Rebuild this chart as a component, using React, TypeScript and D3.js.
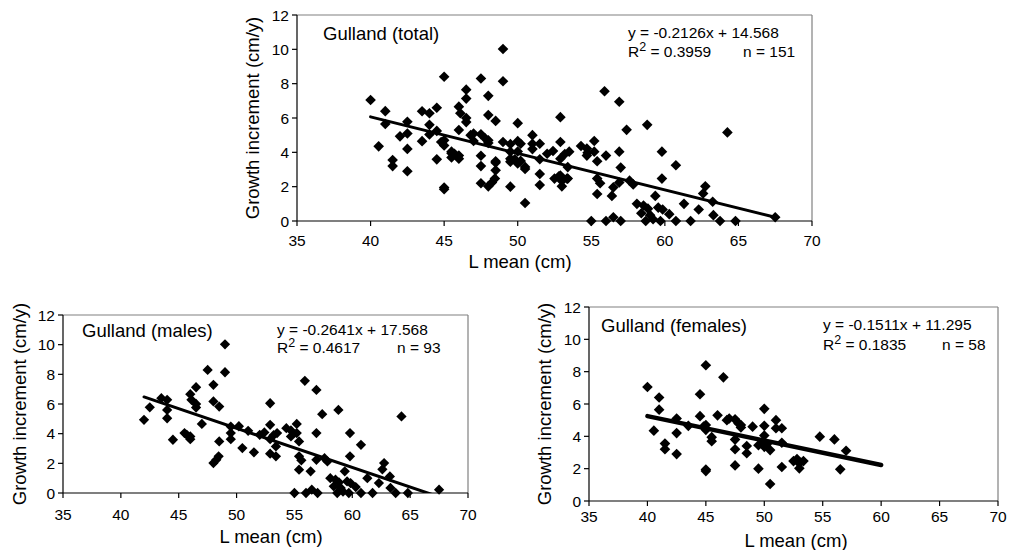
import React from "react";
import * as d3 from "d3";

const xTicks = [35, 40, 45, 50, 55, 60, 65, 70];
const yTicks = [0, 2, 4, 6, 8, 10, 12];

const males: [number, number][] = [
  [42.0, 4.93], [42.5, 5.78], [43.5, 6.39], [44.0, 6.28], [44.0, 5.6], [44.0, 5.04], [44.5, 3.59],
  [45.5, 4.04], [45.7, 3.92], [46.0, 3.63], [46.0, 3.81], [46.0, 6.66], [46.1, 6.28], [46.5, 7.13],
  [46.5, 6.0], [46.5, 5.76], [47.0, 4.66], [47.5, 8.3], [48.0, 7.29], [48.0, 6.17], [48.0, 2.02],
  [48.25, 2.24], [48.45, 2.47], [48.5, 5.83], [48.5, 3.48], [49.0, 10.02], [49.0, 8.14], [49.5, 4.48],
  [49.5, 4.04], [49.5, 3.63], [50.5, 3.03], [51.0, 4.19], [51.5, 2.74], [52.0, 3.92], [52.4, 4.08],
  [52.9, 6.05], [52.9, 4.6], [52.9, 3.63], [52.9, 2.65], [53.4, 3.14], [53.5, 4.04], [53.4, 2.47],
  [54.3, 4.37], [54.7, 4.22], [54.7, 3.81], [55.2, 4.66], [55.2, 4.04], [55.4, 3.48], [55.0, 0],
  [55.4, 2.47], [55.4, 1.57], [55.9, 7.56], [56.0, 0], [56.5, 0.22], [57.0, 0], [56.4, 1.46],
  [56.9, 6.95], [56.9, 4.04], [56.9, 2.24], [57.4, 5.31], [57.85, 2.13], [58.8, 5.6], [59.8, 4.04],
  [59.8, 2.47], [59.35, 1.46], [60.75, 3.25], [60.75, 0], [61.3, 1.0], [61.75, 0], [62.3, 0.67],
  [62.75, 2.02], [63.25, 1.12], [63.3, 0.34], [63.75, 0], [64.25, 5.16], [67.5, 0.22], [64.8, 0],
  [58.1, 1.0], [58.55, 0.9], [58.85, 0.72], [58.4, 0.45], [59.0, 0.34], [59.55, 0.78], [59.85, 0.67],
  [58.7, 0], [59.7, 0], [50.2, 4.5], [53.2, 3.9], [55.6, 2.2], [57.6, 2.35], [59.2, 0.1],
  [60.3, 0.4], [62.6, 1.6],
];

const females: [number, number][] = [
  [40.0, 7.05], [41.0, 6.4], [41.0, 5.65], [40.55, 4.35], [41.5, 3.55], [41.5, 3.2], [42.5, 5.1],
  [42.5, 4.2], [42.5, 2.9], [43.5, 4.65], [44.5, 6.6], [44.5, 5.25], [45.0, 8.4], [45.0, 4.7],
  [45.0, 4.4], [45.0, 1.95], [45.0, 1.85], [45.5, 3.95], [45.5, 3.7], [46.0, 5.3], [46.5, 7.65],
  [47.0, 5.1], [47.5, 5.05], [47.5, 3.8], [47.5, 3.2], [47.5, 2.2], [48.0, 4.55], [48.0, 4.7],
  [48.5, 3.4], [48.5, 2.95], [49.0, 4.6], [49.5, 3.45], [49.5, 2.0], [50.0, 5.7], [50.0, 4.65],
  [50.0, 4.05], [50.0, 3.35], [50.5, 3.15], [50.5, 1.05], [51.0, 5.0], [51.0, 4.5], [51.5, 4.5],
  [51.5, 3.6], [51.5, 2.1], [52.5, 2.47], [53.0, 2.33], [53.35, 2.47], [53.0, 2.02], [54.75, 3.98],
  [56.0, 3.81], [57.0, 3.11], [56.5, 1.96], [49.8, 3.6], [50.2, 3.5], [47.8, 4.8], [46.8, 5.0],
  [44.8, 4.6], [52.8, 2.6],
];

const total: [number, number][] = [...males, ...females];

const totalFit = [-0.2126, 14.568];
const malesFit = [-0.2641, 17.568];
const femalesFit = [-0.1511, 11.295];
const totalRange = [40, 67.5];
const malesRange = [42, 67.5];
const femalesRange = [40, 60];

const totalLabels = ["Gulland (total)", "y = -0.2126x + 14.568", " = 0.3959", "n = 151"];
const malesLabels = ["Gulland (males)", "y = -0.2641x + 17.568", " = 0.4617", "n = 93"];
const femalesLabels = ["Gulland (females)", "y = -0.1511x + 11.295", " = 0.1835", "n = 58"];

const FONT = "'Liberation Sans', Arial, sans-serif";

type PanelProps = {
  id: string;
  px0: number; px1: number; py0: number; py1: number;
  points: [number, number][];
  fit: number[]; range: number[]; lw: number;
  labels: string[];
  titleX: number; titleY: number;
  eqX: number; eqY1: number; eqY2: number; nX: number;
  tickBase: number; xTitleX: number; xTitleY: number; yTitleX: number;
  r: number;
};

function Panel(p: PanelProps) {
  const x = d3.scaleLinear().domain([35, 70]).range([p.px0, p.px1]);
  const y = d3.scaleLinear().domain([0, 12]).range([p.py0, p.py1]);
  const lineGen = d3.line<number>().x((v) => x(v)).y((v) => y(p.fit[0] * v + p.fit[1]));
  const sym = d3.symbol().type(d3.symbolDiamond2).size(p.r * p.r * 2);
  return (
    <g>
      <defs>
        <clipPath id={p.id}>
          <rect x={p.px0} y={p.py1} width={p.px1 - p.px0} height={p.py0 - p.py1} />
        </clipPath>
      </defs>
      <line x1={p.px0} x2={p.px1} y1={p.py1} y2={p.py1} stroke="#808080" strokeWidth={1.2} />
      <line x1={p.px1} x2={p.px1} y1={p.py1} y2={p.py0} stroke="#808080" strokeWidth={1.2} />
      <line x1={p.px0} x2={p.px1} y1={p.py0} y2={p.py0} stroke="#000" strokeWidth={1.2} />
      <line x1={p.px0} x2={p.px0} y1={p.py1} y2={p.py0} stroke="#000" strokeWidth={1.2} />
      {yTicks.map((t) => (
        <g key={"y" + t}>
          <line x1={p.px0 - 5} x2={p.px0} y1={y(t)} y2={y(t)} stroke="#000" strokeWidth={1.2} />
          <text x={p.px0 - 8} y={y(t)} dy="0.36em" textAnchor="end" fontSize={15.5} fontFamily={FONT}>{t}</text>
        </g>
      ))}
      {xTicks.map((t) => (
        <g key={"x" + t}>
          <line x1={x(t)} x2={x(t)} y1={p.py0} y2={p.py0 + 5} stroke="#000" strokeWidth={1.2} />
          <text x={x(t)} y={p.tickBase} textAnchor="middle" fontSize={15.5} fontFamily={FONT}>{t}</text>
        </g>
      ))}
      {p.points.map((d, i) => (
        <path key={i} d={sym() as string} transform={`translate(${x(d[0])},${y(d[1])})`} fill="#000" />
      ))}
      <path d={lineGen(p.range) as string} stroke="#000" strokeWidth={p.lw} fill="none" clipPath={`url(#${p.id})`} strokeLinecap="round" />
      <text x={p.titleX} y={p.titleY} fontSize={18.5} fontFamily={FONT}>{p.labels[0]}</text>
      <text x={p.eqX} y={p.eqY1} fontSize={15.5} fontFamily={FONT}>{p.labels[1]}</text>
      <text x={p.eqX} y={p.eqY2} fontSize={15.5} fontFamily={FONT}>
        R<tspan dy={-6} fontSize={12.5}>2</tspan><tspan dy={6}>{p.labels[2]}</tspan>
      </text>
      <text x={p.nX} y={p.eqY2} fontSize={15.5} fontFamily={FONT}>{p.labels[3]}</text>
      <text x={p.xTitleX} y={p.xTitleY} textAnchor="middle" fontSize={18.5} fontFamily={FONT}>L mean (cm)</text>
      <text transform={`translate(${p.yTitleX},${(p.py0 + p.py1) / 2}) rotate(-90)`} dy="0.35em" textAnchor="middle" fontSize={18.5} fontFamily={FONT}>
        Growth increment (cm/y)
      </text>
    </g>
  );
}

export default function App() {
  return (
    <svg width={1009} height={550} style={{ position: "absolute", left: 0, top: 0, background: "#fff" }}>
      <rect width={1009} height={550} fill="#fff" />
      <Panel id="c1" px0={297} px1={812} py0={221} py1={15} points={total} fit={totalFit} range={totalRange} lw={3}
        labels={totalLabels} titleX={323} titleY={40} eqX={628} eqY1={38} eqY2={57} nX={743}
        tickBase={246} xTitleX={520} xTitleY={268} yTitleX={253} r={6} />
      <Panel id="c2" px0={63} px1={468} py0={493} py1={315} points={males} fit={malesFit} range={malesRange} lw={3}
        labels={malesLabels} titleX={82} titleY={337} eqX={277} eqY1={335} eqY2={353} nX={397}
        tickBase={520} xTitleX={271} xTitleY={543} yTitleX={20} r={5.8} />
      <Panel id="c3" px0={589} px1={998} py0={501} py1={307} points={females} fit={femalesFit} range={femalesRange} lw={4.5}
        labels={femalesLabels} titleX={601} titleY={332} eqX={823} eqY1={330} eqY2={350} nX={942}
        tickBase={522} xTitleX={796} xTitleY={547} yTitleX={545} r={6} />
    </svg>
  );
}
